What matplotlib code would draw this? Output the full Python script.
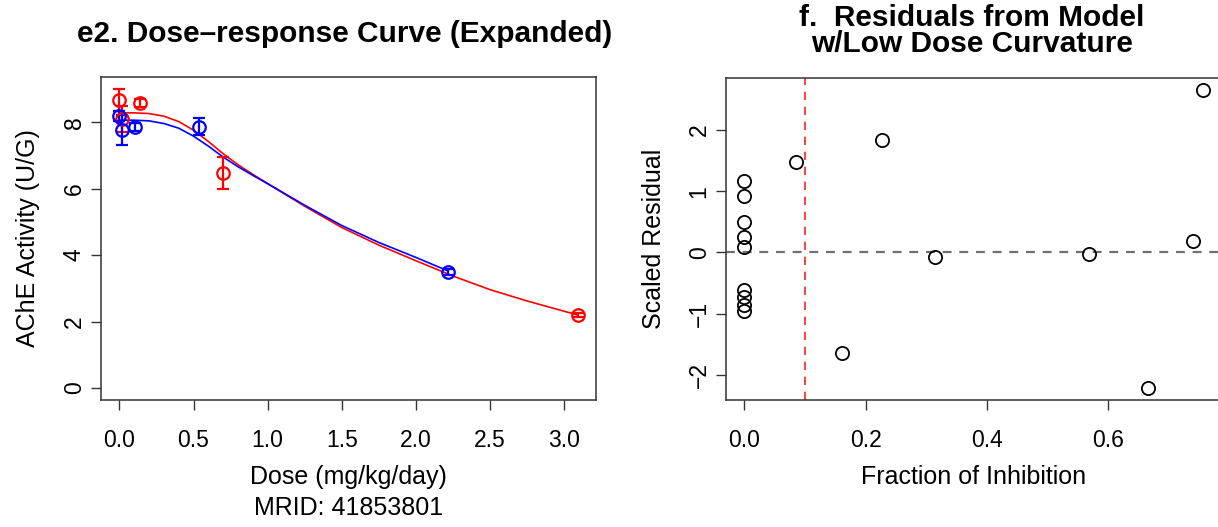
import matplotlib
matplotlib.use("Agg")
import matplotlib.pyplot as plt

plt.rcParams['font.family'] = ['Liberation Sans', 'DejaVu Sans']

# panel e2: observed means with standard errors
red_dose = [0.0, 0.02, 0.137, 0.70, 3.09]
red_mean = [8.67, 8.10, 8.57, 6.48, 2.19]
red_se = [0.33, 0.40, 0.12, 0.48, 0.06]

blue_dose = [0.0, 0.018, 0.108, 0.536, 2.218]
blue_mean = [8.20, 7.77, 7.87, 7.87, 3.49]
blue_se = [0.15, 0.45, 0.12, 0.25, 0.08]

# fitted curves
red_fit_x = [0.0, 0.1, 0.2, 0.3, 0.4, 0.5, 0.6, 0.7, 0.8, 0.9, 1.0, 1.25, 1.5, 1.75,
             2.0, 2.25, 2.5, 2.75, 3.0, 3.09]
red_fit_y = [8.28, 8.28, 8.26, 8.18, 8.02, 7.76, 7.42, 7.05, 6.72, 6.43, 6.15, 5.47, 4.83,
             4.30, 3.83, 3.37, 2.96, 2.62, 2.31, 2.20]
blue_fit_x = [0.0, 0.1, 0.2, 0.3, 0.4, 0.5, 0.6, 0.7, 0.8, 0.9, 1.0, 1.25, 1.5, 1.75,
              2.0, 2.218]
blue_fit_y = [8.06, 8.06, 8.04, 7.96, 7.82, 7.58, 7.28, 6.95, 6.66, 6.40, 6.15, 5.50, 4.89,
              4.38, 3.93, 3.52]

# panel f: scaled residuals
frac_inhib = [0.0, 0.0, 0.0, 0.0, 0.0, 0.0, 0.0, 0.0, 0.0,
              0.0855, 0.2265, 0.1607, 0.314, 0.569, 0.666, 0.740, 0.756]
scaled_resid = [1.17, 0.93, 0.49, 0.26, 0.09, -0.61, -0.72, -0.85, -0.96,
                1.475, 1.833, -1.636, -0.081, -0.027, -2.216, 0.185, 2.657]
threshold = 0.1

W, H = 1218, 527
fig = plt.figure(figsize=(W / 100, H / 100), dpi=100)

LAB = 18      # axis label size
TICK = 16.5   # tick label size
TITLE = 21.5


def frame(ax):
    for s in ax.spines.values():
        s.set_linewidth(1.1)
        s.set_color('#333333')
    ax.tick_params(length=7, width=1.0, labelsize=TICK, color='#333333')
    ax.tick_params(axis='x', pad=14)
    ax.tick_params(axis='y', pad=4)
    for lab in ax.get_yticklabels():
        lab.set_rotation(90)
        lab.set_va('center')


# ---- left panel ----
ax1 = fig.add_axes([101 / W, 1 - 400 / H, 495 / W, 323 / H])
ax1.plot(red_fit_x, red_fit_y, color='red', lw=1.2)
ax1.plot(blue_fit_x, blue_fit_y, color='blue', lw=1.2)
ax1.errorbar(red_dose, red_mean, yerr=red_se, fmt='o', ms=9, mfc='none', mec='red',
             mew=1.6, ecolor='red', elinewidth=1.6, capsize=4, capthick=1.6)
ax1.errorbar(blue_dose, blue_mean, yerr=blue_se, fmt='o', ms=9, mfc='none', mec='blue',
             mew=1.6, ecolor='blue', elinewidth=1.6, capsize=4, capthick=1.6)
ax1.set_xlim(-0.124, 3.214)
ax1.set_ylim(-0.36, 9.36)
ax1.set_xticks([0.0, 0.5, 1.0, 1.5, 2.0, 2.5, 3.0])
ax1.set_xticklabels(['0.0', '0.5', '1.0', '1.5', '2.0', '2.5', '3.0'])
ax1.set_yticks([0, 2, 4, 6, 8])
frame(ax1)
ax1.set_xlabel('Dose (mg/kg/day)\nMRID: 41853801', fontsize=LAB, labelpad=9,
               linespacing=1.4)
ax1.set_ylabel('AChE Activity (U/G)', fontsize=LAB, labelpad=16)
fig.text(345 / W, 1 - 42 / H, 'e2. Dose\u2013response Curve (Expanded)', fontsize=TITLE,
         fontweight='bold', ha='center', va='baseline')

# ---- right panel ----
ax2 = fig.add_axes([726 / W, 1 - 400 / H, 495 / W, 322 / H])
ax2.axhline(0, color='#707070', lw=1.6, ls=(0, (4, 3.5)))
ax2.axvline(threshold, color='#ff2020', lw=1.2, ls=(0, (5, 4)))
ax2.plot(frac_inhib, scaled_resid, 'o', ms=9.5, mfc='none', mec='black', mew=1.3)
ax2.set_xlim(-0.030, 0.786)
ax2.set_ylim(-2.41, 2.85)
ax2.set_xticks([0.0, 0.2, 0.4, 0.6])
ax2.set_xticklabels(['0.0', '0.2', '0.4', '0.6'])
ax2.set_yticks([-2, -1, 0, 1, 2])
frame(ax2)
ax2.set_xlabel('Fraction of Inhibition', fontsize=LAB, labelpad=9)
ax2.set_ylabel('Scaled Residual', fontsize=LAB, labelpad=16)
fig.text(972 / W, 1 - 31 / H, 'f.  Residuals from Model\nw/Low Dose Curvature',
         fontsize=TITLE, fontweight='bold', ha='center', va='center', linespacing=0.88)

fig.savefig('out.png', dpi=100)
